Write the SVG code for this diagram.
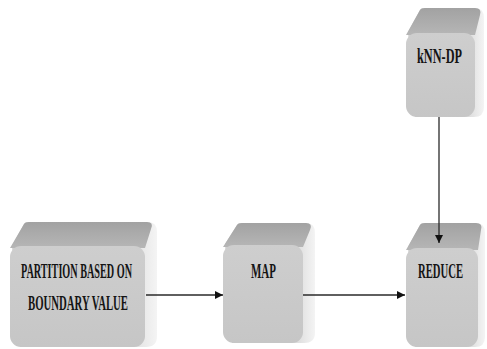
<svg xmlns="http://www.w3.org/2000/svg" width="487" height="349" viewBox="0 0 487 349">
<style>
.side{fill:url(#gSide)}
.top{fill:url(#gTop)}
.front{fill:url(#gFront)}
.lbl{font-family:"Liberation Serif","Times New Roman",serif;font-weight:bold;font-size:21px;fill:#141414}
.conn{stroke:#2a2a2a;stroke-width:1.3;fill:none}
</style>
<defs>
<linearGradient id="gSide" x1="0" y1="0" x2="1" y2="0">
<stop offset="0" stop-color="#cfcfcf"/><stop offset="0.8" stop-color="#dddddd"/><stop offset="1" stop-color="#f4f4f4"/>
</linearGradient>
<linearGradient id="gTop" x1="0" y1="0" x2="0" y2="1">
<stop offset="0" stop-color="#a2a2a2"/><stop offset="1" stop-color="#b6b6b6"/>
</linearGradient>
<linearGradient id="gFront" x1="0" y1="0" x2="0" y2="1">
<stop offset="0" stop-color="#cecece"/><stop offset="1" stop-color="#c6c6c6"/>
</linearGradient>
<marker id="arr" viewBox="0 0 10 10" refX="10" refY="5" markerWidth="8" markerHeight="8" markerUnits="userSpaceOnUse" orient="auto">
<path d="M0,0 L10,5 L0,10 Z" fill="#111"/>
</marker>
</defs>

<g id="partition">
<path class="side" d="M12,246 L24,224 Q25,222 29,222 L148,222 Q157,222 157,232 L157,336 Q157,347 146,347 L20,347 Z"/>
<path class="top" d="M10,248 L24,224 Q25,222 29,222 L147,222 Q154,222 151,229 L145,248 Z"/>
<rect class="front" x="10" y="246" width="135" height="101" rx="11"/>
<text class="lbl" transform="translate(21,278) scale(0.5,1)" textLength="222" lengthAdjust="spacingAndGlyphs">PARTITION BASED ON</text>
<text class="lbl" transform="translate(28,310) scale(0.5,1)" textLength="200" lengthAdjust="spacingAndGlyphs">BOUNDARY VALUE</text>
</g>

<g id="map">
<path class="side" d="M225,244 L237,225 Q238,223 242,223 L306,223 Q315,223 315,233 L315,333 Q315,343 304,343 L232,343 Z"/>
<path class="top" d="M223,247 L237,225 Q238,223 242,223 L306,223 Q313,223 310,230 L303,247 Z"/>
<rect class="front" x="223" y="245" width="80" height="98" rx="11"/>
<text class="lbl" transform="translate(251,278) scale(0.5,1)" textLength="50" lengthAdjust="spacingAndGlyphs">MAP</text>
</g>

<g id="knn">
<path class="side" d="M408,32 L420,10 Q421,8 425,8 L475,8 Q484,8 484,18 L484,107 Q484,117 474,117 L415,117 Z"/>
<path class="top" d="M406,35 L420,10 Q421,8 425,8 L475,8 Q482,8 480,15 L475,35 Z"/>
<rect class="front" x="406" y="33" width="69" height="84" rx="11"/>
<text class="lbl" transform="translate(417,63) scale(0.5,1)" textLength="90" lengthAdjust="spacingAndGlyphs">kNN-DP</text>
</g>

<g id="reduce">
<path class="side" d="M408,247 L420,225 Q421,223 425,223 L476,223 Q485,223 485,233 L485,337 Q485,347 475,347 L415,347 Z"/>
<path class="top" d="M406,250 L420,225 Q421,223 425,223 L476,223 Q483,223 481,230 L478,250 Z"/>
<rect class="front" x="406" y="248" width="72" height="99" rx="11"/>
<text class="lbl" transform="translate(418,278) scale(0.5,1)" textLength="90" lengthAdjust="spacingAndGlyphs">REDUCE</text>
</g>

<g id="connectors">
<line class="conn" x1="146" y1="295" x2="223" y2="295" marker-end="url(#arr)"/>
<line class="conn" x1="303" y1="295" x2="405" y2="295" marker-end="url(#arr)"/>
<line class="conn" x1="439" y1="117" x2="439" y2="243" marker-end="url(#arr)"/>
</g>
</svg>
